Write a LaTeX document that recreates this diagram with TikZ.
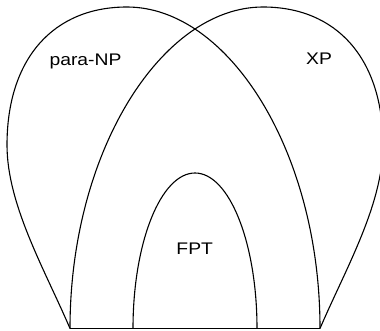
\documentclass[tikz,border=0pt]{standalone}
\usepackage{fontspec}
\setmainfont{Liberation Sans}
\begin{document}
\begin{tikzpicture}[x=1pt,y=-1pt,line width=1.1pt,line join=round,
  lbl/.style={font=\fontsize{16.8}{20}\selectfont,inner sep=0pt,anchor=base,xscale=1.15,transform shape}]
\useasboundingbox (0,0) rectangle (380,331);
% para-NP lobe
\draw (70,328.5) .. controls (45,270) and (7,205) .. (7,145)
  .. controls (7,59) and (53,7) .. (127,7)
  .. controls (228,7) and (320,151) .. (320,328.5);
% XP lobe
\draw (320,328.5) .. controls (345,270) and (383,205) .. (383,145)
  .. controls (383,59) and (337,7) .. (263,7)
  .. controls (162,7) and (70,151) .. (70,328.5);
% FPT arch
\draw (133,328.5) .. controls (133,242.7) and (160.8,173) .. (195,173)
  .. controls (229.2,173) and (257,242.7) .. (257,328.5);
% base
\draw (70,328.5) -- (320,328.5);
\node[lbl] (paranp) at (85.5,65.5) {para-NP};
\node[lbl] (xp) at (319,64.5) {XP};
\node[lbl] (fpt) at (194.7,254) {FPT};
\end{tikzpicture}
\end{document}
